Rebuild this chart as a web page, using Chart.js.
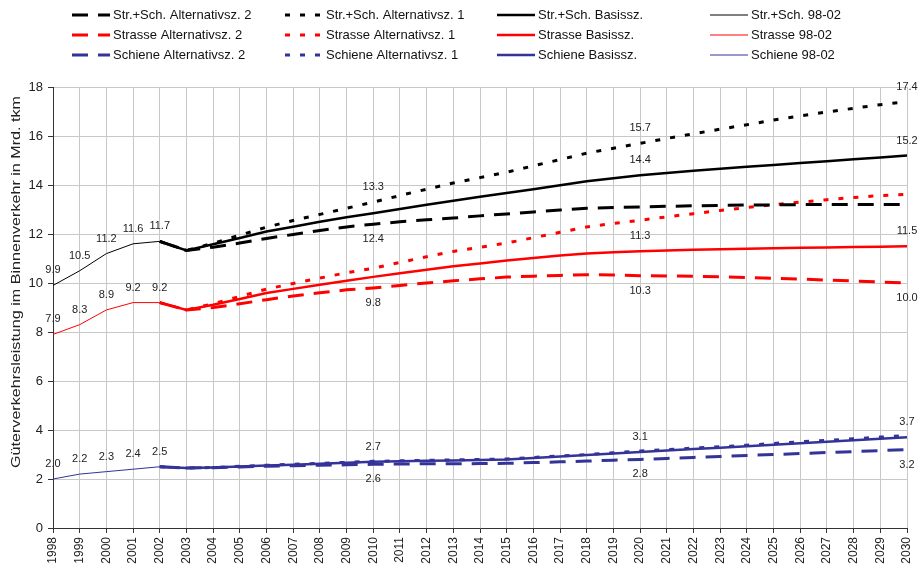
<!DOCTYPE html>
<html>
<head>
    <meta charset="utf-8" />
    <title>Güterverkehrsleistung im Binnenverkehr</title>
    <script src="https://cdn.jsdelivr.net/npm/chart.js"></script>
    <style>
        body { margin: 0; padding: 0; background: #fff; }
        #wrap { width: 920px; height: 566px; }
    </style>
</head>
<body>
    <div id="wrap"><canvas id="chart" width="920" height="566"></canvas></div>
    <script>
        // years on the x axis
        var years = [];
        for (var y = 1998; y <= 2030; y++) years.push(String(y));

        // 1998-2002 (observed)
        var strSch9802  = [9.9, 10.5, 11.2, 11.6, 11.7];
        var strasse9802 = [7.9, 8.3, 8.9, 9.2, 9.2];
        var schiene9802 = [2.0, 2.2, 2.3, 2.4, 2.5];

        // scenarios 2002-2030
        var strSchBasis = [11.7, 11.33, 11.58, 11.84, 12.1, 12.3, 12.5, 12.68, 12.85, 13.02, 13.19, 13.36, 13.52, 13.67, 13.83,
            13.99, 14.15, 14.28, 14.4, 14.49, 14.58, 14.66, 14.74, 14.82, 14.9, 14.97, 15.05, 15.12, 15.2];
        var strSchAlt1 = [11.7, 11.33, 11.62, 11.95, 12.28, 12.55, 12.8, 13.05, 13.3, 13.57, 13.83, 14.08, 14.3, 14.52, 14.78,
            15.04, 15.3, 15.5, 15.7, 15.9, 16.09, 16.28, 16.46, 16.65, 16.82, 16.98, 17.13, 17.28, 17.4];
        var strSchAlt2 = [11.7, 11.33, 11.46, 11.63, 11.82, 11.98, 12.14, 12.29, 12.4, 12.5, 12.58, 12.65, 12.74, 12.82, 12.9,
            12.98, 13.05, 13.08, 13.1, 13.13, 13.15, 13.17, 13.18, 13.19, 13.2, 13.2, 13.2, 13.2, 13.2];

        var strasseBasis = [9.2, 8.9, 9.11, 9.35, 9.59, 9.76, 9.93, 10.09, 10.25, 10.4, 10.54, 10.68, 10.8, 10.92, 11.02,
            11.12, 11.2, 11.26, 11.3, 11.33, 11.36, 11.38, 11.4, 11.42, 11.44, 11.45, 11.47, 11.48, 11.5];
        var strasseAlt1 = [9.2, 8.9, 9.15, 9.45, 9.75, 9.98, 10.2, 10.42, 10.6, 10.84, 11.07, 11.29, 11.46, 11.63, 11.85,
            12.07, 12.29, 12.43, 12.56, 12.7, 12.83, 12.96, 13.08, 13.2, 13.3, 13.4, 13.49, 13.57, 13.62];
        var strasseAlt2 = [9.2, 8.9, 9.0, 9.15, 9.32, 9.47, 9.6, 9.72, 9.8, 9.9, 10.0, 10.09, 10.17, 10.24, 10.28,
            10.31, 10.34, 10.33, 10.3, 10.29, 10.27, 10.25, 10.22, 10.19, 10.16, 10.12, 10.08, 10.04, 10.0];

        var schieneBasis = [2.5, 2.45, 2.47, 2.51, 2.55, 2.58, 2.62, 2.66, 2.7, 2.72, 2.74, 2.76, 2.78, 2.8, 2.86,
            2.92, 2.98, 3.04, 3.1, 3.16, 3.22, 3.28, 3.34, 3.4, 3.46, 3.52, 3.58, 3.64, 3.7];
        var schieneAlt1 = [2.5, 2.45, 2.47, 2.52, 2.56, 2.6, 2.64, 2.68, 2.72, 2.74, 2.76, 2.78, 2.8, 2.82, 2.88,
            2.94, 3.0, 3.07, 3.14, 3.2, 3.26, 3.32, 3.38, 3.45, 3.52, 3.58, 3.64, 3.71, 3.78];
        var schieneAlt2 = [2.5, 2.45, 2.46, 2.49, 2.52, 2.54, 2.56, 2.58, 2.6, 2.61, 2.62, 2.62, 2.63, 2.64, 2.67,
            2.7, 2.73, 2.77, 2.8, 2.84, 2.88, 2.92, 2.96, 3.0, 3.04, 3.08, 3.12, 3.16, 3.2];

        // value labels: [dataset id, year, above/below]
        var valueLabels = [
            ['strSch9802', 1998, 'up'], ['strSch9802', 1999, 'up'], ['strSch9802', 2000, 'up'], ['strSch9802', 2001, 'up'], ['strSch9802', 2002, 'up'],
            ['strasse9802', 1998, 'up'], ['strasse9802', 1999, 'up'], ['strasse9802', 2000, 'up'], ['strasse9802', 2001, 'up'], ['strasse9802', 2002, 'up'],
            ['schiene9802', 1998, 'up'], ['schiene9802', 1999, 'up'], ['schiene9802', 2000, 'up'], ['schiene9802', 2001, 'up'], ['schiene9802', 2002, 'up'],
            ['strSchAlt1', 2010, 'up'], ['strSchAlt1', 2020, 'up'], ['strSchAlt1', 2030, 'up'],
            ['strSchBasis', 2020, 'up'], ['strSchBasis', 2030, 'up'],
            ['strSchAlt2', 2010, 'down'],
            ['strasseBasis', 2020, 'up'], ['strasseBasis', 2030, 'up'],
            ['strasseAlt2', 2010, 'down'], ['strasseAlt2', 2020, 'down'], ['strasseAlt2', 2030, 'down'],
            ['schieneBasis', 2010, 'up'], ['schieneBasis', 2020, 'up'], ['schieneBasis', 2030, 'up'],
            ['schieneAlt2', 2010, 'down'], ['schieneAlt2', 2020, 'down'], ['schieneAlt2', 2030, 'down']
        ];

        var BLACK = '#000000', RED = '#ff0000', BLUE = '#333399';

        function hist(vals) {
            var out = years.map(function () { return null; });
            vals.forEach(function (v, i) { out[i] = v; });
            return out;
        }
        function scen(vals) {
            var out = years.map(function () { return null; });
            vals.forEach(function (v, i) { out[i + 4] = v; });
            return out;
        }

        var styles = {
            alt2:  { borderWidth: 3, borderDash: [16, 10] },
            alt1:  { borderWidth: 3, borderDash: [5, 10] },
            basis: { borderWidth: 2.5, borderDash: [] },
            hist:  { borderWidth: 1, borderDash: [] }
        };

        function makeSet(id, label, data, color, kind) {
            return {
                id: id, label: label, data: data, kind: kind,
                borderColor: color, backgroundColor: color,
                borderWidth: styles[kind].borderWidth,
                borderDash: styles[kind].borderDash,
                borderCapStyle: 'butt',
                pointRadius: 0, tension: 0, fill: false, spanGaps: false
            };
        }

        var datasets = [
            makeSet('strSch9802', 'Str.+Sch. 98-02', hist(strSch9802), BLACK, 'hist'),
            makeSet('strasse9802', 'Strasse 98-02', hist(strasse9802), RED, 'hist'),
            makeSet('schiene9802', 'Schiene 98-02', hist(schiene9802), BLUE, 'hist'),
            makeSet('strSchAlt2', 'Str.+Sch. Alternativsz. 2', scen(strSchAlt2), BLACK, 'alt2'),
            makeSet('strasseAlt2', 'Strasse Alternativsz. 2', scen(strasseAlt2), RED, 'alt2'),
            makeSet('schieneAlt2', 'Schiene Alternativsz. 2', scen(schieneAlt2), BLUE, 'alt2'),
            makeSet('strSchAlt1', 'Str.+Sch. Alternativsz. 1', scen(strSchAlt1), BLACK, 'alt1'),
            makeSet('strasseAlt1', 'Strasse Alternativsz. 1', scen(strasseAlt1), RED, 'alt1'),
            makeSet('schieneAlt1', 'Schiene Alternativsz. 1', scen(schieneAlt1), BLUE, 'alt1'),
            makeSet('strSchBasis', 'Str.+Sch. Basissz.', scen(strSchBasis), BLACK, 'basis'),
            makeSet('strasseBasis', 'Strasse Basissz.', scen(strasseBasis), RED, 'basis'),
            makeSet('schieneBasis', 'Schiene Basissz.', scen(schieneBasis), BLUE, 'basis')
        ];

        // legend grid: columns by scenario, rows by mode
        var legendOrder = [
            ['strSchAlt2', 'strSchAlt1', 'strSchBasis', 'strSch9802'],
            ['strasseAlt2', 'strasseAlt1', 'strasseBasis', 'strasse9802'],
            ['schieneAlt2', 'schieneAlt1', 'schieneBasis', 'schiene9802']
        ];

        var FONT = "Arial, 'Liberation Sans', sans-serif";
        Chart.defaults.font.family = FONT;

        function findSet(chart, id) {
            for (var i = 0; i < chart.data.datasets.length; i++) {
                if (chart.data.datasets[i].id === id) return i;
            }
            return -1;
        }

        var extrasPlugin = {
            id: 'extras',
            afterDatasetsDraw: function (chart) {
                var ctx = chart.ctx;
                ctx.save();
                ctx.font = '11px ' + FONT;
                ctx.fillStyle = '#222';
                ctx.textAlign = 'center';
                ctx.textBaseline = 'middle';
                valueLabels.forEach(function (l) {
                    var di = findSet(chart, l[0]);
                    var idx = years.indexOf(String(l[1]));
                    var pt = chart.getDatasetMeta(di).data[idx];
                    var v = chart.data.datasets[di].data[idx];
                    var dy = l[2] === 'up' ? -15 : 15;
                    ctx.fillText(v.toFixed(1), pt.x, pt.y + dy);
                });
                ctx.restore();
            },
            afterDraw: function (chart) {
                var ctx = chart.ctx;
                // legend
                var colX = [72, 285, 497, 710];
                var rowY = [15, 35, 55];
                ctx.save();
                ctx.font = '13px ' + FONT;
                ctx.textBaseline = 'middle';
                ctx.textAlign = 'left';
                legendOrder.forEach(function (row, r) {
                    row.forEach(function (id, c) {
                        var ds = chart.data.datasets[findSet(chart, id)];
                        var x0 = colX[c], x1 = colX[c] + 38, yy = rowY[r];
                        ctx.beginPath();
                        ctx.strokeStyle = ds.borderColor;
                        ctx.lineWidth = ds.borderWidth;
                        ctx.setLineDash(ds.borderDash);
                        ctx.lineCap = 'butt';
                        ctx.moveTo(x0, yy);
                        ctx.lineTo(x1, yy);
                        ctx.stroke();
                        ctx.setLineDash([]);
                        ctx.fillStyle = '#111';
                        ctx.fillText(ds.label, x1 + 3, yy);
                    });
                });
                ctx.restore();

                // y axis title
                var t = 'Güterverkehrsleistung im Binnenverkehr in Mrd. tkm';
                ctx.save();
                ctx.translate(16, 282);
                ctx.rotate(-Math.PI / 2);
                ctx.font = '13px ' + FONT;
                var w = ctx.measureText(t).width;
                ctx.scale(372 / w, 1);
                ctx.fillStyle = '#222';
                ctx.textAlign = 'center';
                ctx.textBaseline = 'middle';
                ctx.fillText(t, 0, 0);
                ctx.restore();
            }
        };

        new Chart(document.getElementById('chart'), {
            type: 'line',
            data: { labels: years, datasets: datasets },
            options: {
                responsive: false,
                animation: false,
                layout: { padding: { top: 87, right: 13, left: 0, bottom: 0 } },
                plugins: {
                    legend: { display: false },
                    tooltip: { enabled: false }
                },
                scales: {
                    x: {
                        offset: false,
                        grid: { color: '#c8c8c8', tickColor: '#333', tickLength: 5 },
                        border: { color: '#333', width: 1 },
                        ticks: { autoSkip: false, minRotation: 90, maxRotation: 90, padding: 4,
                                 color: '#222', font: { size: 12 } },
                        afterFit: function (s) {
                            s.height = 38;
                            s.paddingLeft = 0;
                            s.paddingRight = 0;
                        }
                    },
                    y: {
                        min: 0, max: 18,
                        grid: { color: '#c8c8c8', tickColor: '#333', tickLength: 5 },
                        border: { color: '#333', width: 1 },
                        ticks: { stepSize: 2, padding: 5, color: '#222', font: { size: 13 } },
                        afterFit: function (s) { s.width = 53; }
                    }
                }
            },
            plugins: [extrasPlugin]
        });
    </script>
</body>
</html>
